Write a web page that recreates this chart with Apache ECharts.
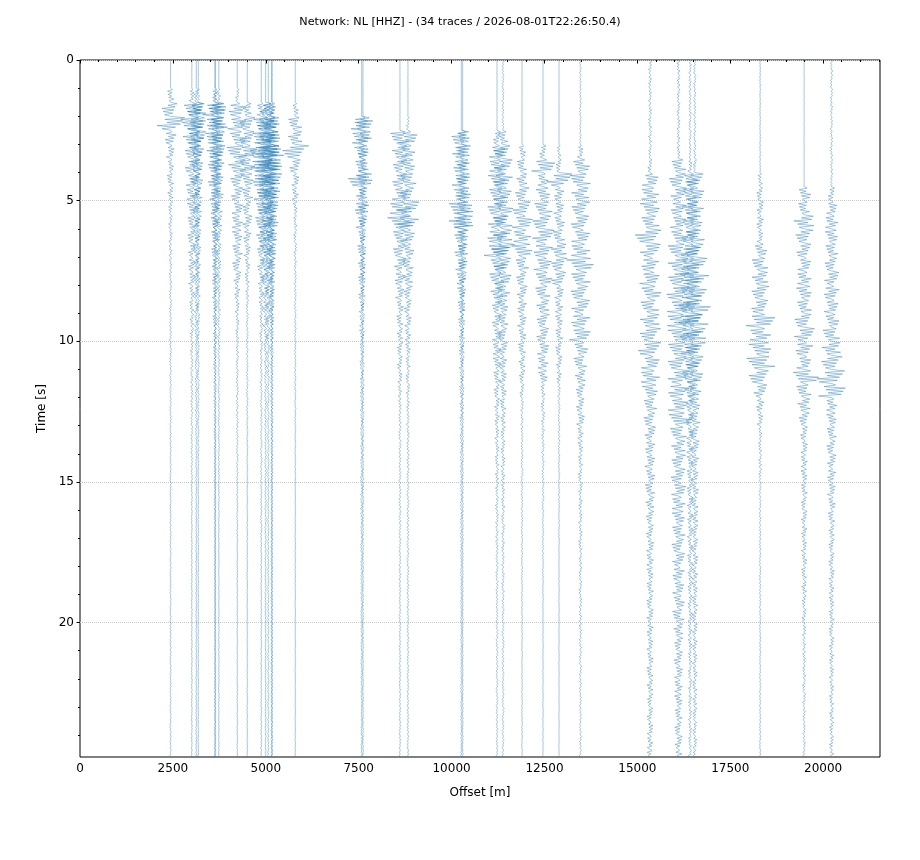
<!DOCTYPE html>
<html>
<head>
<meta charset="utf-8">
<title>Record section</title>
<script src="https://cdn.jsdelivr.net/npm/echarts@6/dist/echarts.min.js"></script>
<style>
  html, body { margin: 0; padding: 0; background: #fff; }
  #chart { width: 920px; height: 860px; }
</style>
</head>
<body>
<div id="chart"></div>
<script>
// station offsets in metres, one per trace (34 traces)
var offsets = [2437, 3010, 3129, 3183, 3629, 3645, 3737, 4233, 4502, 4879,
  4995, 5067, 5156, 5172, 5794, 7580, 7616, 8611, 8826, 10263,
  10299, 11223, 11385, 11896, 12461, 12892, 13468, 15342, 16107, 16419,
  16546, 18304, 19488, 20226];

// wiggle half-width (metres), one value per 0.5 s window from t = 0
var binSec = 0.5;
var envelopes = [
  /* 2437 */ [3,3,90,230,380,160,110,80,90,80, 60,55,50,45,40,40,35,35,30,35, 30,25,25,25,25,25,20,20,20,20, 18,18,18,18,18,18,18,18,18,18, 18,18,18,18,18,18,18,18,18,18],
  /* 3010 */ [3,3,70,280,300,250,200,180,160,150, 130,120,110,100,100,90,70,60,55,50, 45,40,40,35,35,30,28,25,22,20, 15,15,12,12,12,12,12,12,12,12, 12,12,12,12,12,12,12,12,12,12],
  /* 3129 */ [3,3,60,240,250,220,180,150,140,120, 110,100,90,80,70,65,60,55,50,45, 40,38,35,32,30,28,25,22,20,18, 15,12,12,12,12,12,12,12,12,12, 12,12,12,12,12,12,12,12,12,12],
  /* 3183 */ [3,3,40,200,220,200,160,140,120,110, 100,90,80,70,65,60,55,50,45,40, 38,35,32,30,28,25,22,20,18,15, 12,12,12,12,12,12,12,12,12,12, 12,12,12,12,12,12,12,12,12,12],
  /* 3629 */ [3,3,70,330,280,250,230,200,180,150, 120,110,100,90,80,80,70,60,55,50, 45,40,35,30,25,25,22,22,20,20, 18,18,15,15,12,12,12,12,12,12, 12,12,12,12,12,12,12,12,12,12],
  /* 3645 */ [3,3,50,200,220,200,180,160,140,120, 100,90,80,70,65,60,55,50,45,40, 35,32,28,25,22,20,18,18,15,15, 12,12,12,12,10,10,10,10,10,10, 10,10,10,10,10,10,10,10,10,10],
  /* 3737 */ [3,3,50,200,230,200,170,150,130,120, 100,90,80,70,60,60,50,45,40,40, 35,30,25,25,25,25,20,20,18,18, 15,15,12,12,10,10,10,10,10,10, 10,10,10,10,10,10,10,10,10,10],
  /* 4233 */ [3,3,50,250,260,250,280,250,200,160, 150,150,140,140,130,100,80,60,50,45, 40,40,35,35,30,30,28,25,25,22, 20,20,18,15,12,12,12,12,12,12, 12,12,12,12,12,12,12,12,12,12],
  /* 4502 */ [3,3,3,120,220,200,260,220,180,150, 120,130,110,90,70,60,45,40,35,30, 28,25,25,25,22,20,18,15,15,15, 12,12,12,12,12,12,12,12,12,12, 12,12,12,12,12,12,12,12,12,12],
  /* 4879 */ [3,3,3,120,220,250,300,300,250,200, 180,160,140,120,100,90,70,60,50,45, 40,35,35,30,30,25,25,25,25,25, 22,22,20,20,18,15,15,15,15,15, 15,15,15,15,15,15,15,15,15,15],
  /* 4995 */ [3,3,3,150,250,300,350,350,300,250, 220,200,170,150,120,110,90,80,70,60, 50,45,40,35,35,30,25,25,25,25, 25,25,22,22,20,20,18,18,15,15, 15,15,15,15,15,15,15,15,15,15],
  /* 5067 */ [3,3,3,130,220,270,320,330,280,230, 200,180,150,130,110,100,80,70,60,55, 45,40,38,35,30,28,25,25,22,22, 20,20,20,18,18,20,20,20,20,20, 20,20,20,20,20,20,18,18,18,18],
  /* 5156 */ [3,3,3,110,220,250,330,320,280,240, 200,180,150,130,110,90,80,70,60,50, 45,40,35,35,30,28,25,25,22,22, 20,20,18,18,20,20,20,20,20,20, 20,20,20,20,20,18,18,18,18,18],
  /* 5172 */ [3,3,3,90,180,200,260,260,220,190, 160,140,120,100,90,75,65,55,50,40, 35,32,28,28,25,22,20,20,18,18, 15,15,15,15,12,12,12,12,12,12, 12,12,12,12,12,12,12,12,12,12],
  /* 5794 */ [3,3,3,80,180,200,380,150,100,90, 60,50,45,40,35,35,30,28,25,25, 22,20,20,18,18,15,15,15,12,12, 10,10,10,10,10,10,10,10,10,10, 10,10,10,10,10,10,10,10,10,10],
  /* 7580 */ [3,3,3,3,300,280,200,180,360,150, 200,150,110,110,100,100,80,70,60,60, 50,50,45,45,40,40,35,35,35,35, 35,35,32,32,30,30,30,28,28,25, 25,25,25,22,22,22,20,20,20,20],
  /* 7616 */ [3,3,3,3,220,200,150,130,250,110, 150,110,80,80,70,70,60,50,45,45, 38,38,35,35,30,30,28,28,25,22, 22,22,20,20,18,18,18,16,16,15, 15,15,15,15,14,14,14,14,14,14],
  /* 8611 */ [3,3,3,3,3,250,220,200,200,220, 300,350,200,180,160,150,120,100,90,80, 80,70,60,50,40,35,35,30,30,30, 28,28,25,25,25,22,22,20,20,20, 18,18,18,18,18,18,18,18,18,18],
  /* 8826 */ [3,3,3,3,40,250,200,200,220,200, 300,300,200,160,150,140,120,100,90,80, 70,60,55,50,45,40,40,35,35,35, 30,30,30,28,28,25,25,25,22,22, 22,22,20,20,20,20,20,20,20,20],
  /* 10263 */ [3,3,3,3,3,260,250,230,250,250, 330,350,200,180,160,130,110,100,80,70, 65,60,55,50,45,45,40,40,35,35, 35,30,30,30,28,28,25,25,22,22, 20,20,20,20,20,18,18,18,18,18],
  /* 10299 */ [3,3,3,3,3,180,190,170,190,190, 250,260,150,140,120,100,85,75,60,55, 50,45,42,40,35,35,30,30,28,28, 26,24,24,22,22,20,20,18,18,18, 15,15,15,15,15,15,15,15,15,15],
  /* 11223 */ [3,3,3,3,3,100,220,220,250,230, 250,250,280,350,220,200,180,140,130,130, 120,110,100,80,70,65,60,55,50,50, 45,45,40,40,40,35,35,35,30,30, 30,28,28,25,25,25,22,22,20,20],
  /* 11385 */ [25,25,25,25,25,130,250,250,270,250, 270,260,270,330,230,220,190,150,140,130, 120,110,100,90,80,70,65,60,55,55, 50,50,45,45,45,40,40,40,35,35, 35,35,30,30,30,30,30,28,28,28],
  /* 11896 */ [3,3,3,3,3,3,100,130,150,200, 250,280,250,300,180,150,140,130,120,110, 100,90,80,60,40,35,30,30,28,25, 25,22,22,20,20,18,18,15,15,15, 12,12,12,12,12,12,12,12,12,12],
  /* 12461 */ [3,3,3,3,3,3,90,320,150,200, 250,280,300,270,250,250,200,180,180,170, 160,150,130,60,55,50,45,40,35,30, 25,25,20,20,18,15,15,12,12,10, 10,10,10,10,10,10,10,10,10,10],
  /* 12892 */ [3,3,3,3,3,3,50,80,350,140, 140,150,160,220,230,200,120,110,100,100, 90,80,70,40,30,28,25,25,22,20, 18,15,15,12,12,10,10,10,10,10, 8,8,8,8,8,8,8,8,8,8],
  /* 13468 */ [25,25,25,25,25,25,80,250,280,250, 260,250,250,270,390,270,260,250,270,300, 200,180,150,130,110,110,80,70,60,60, 55,55,50,50,50,45,45,45,40,40, 40,35,35,35,35,30,30,30,30,30],
  /* 15342 */ [45,45,45,45,45,45,45,60,220,250, 280,250,400,280,250,280,300,250,280,300, 320,250,270,220,180,170,150,140,140,130, 130,120,110,100,100,95,90,90,90,90, 90,85,85,85,85,80,80,80,80,80],
  /* 16107 */ [45,45,45,45,45,45,45,200,250,220, 220,220,250,280,300,300,320,320,330,300, 300,280,300,300,280,340,220,200,200,200, 200,190,180,180,180,170,170,160,160,160, 130,120,120,110,110,110,100,100,100,100],
  /* 16419 */ [35,35,35,35,35,35,35,60,200,180, 220,200,220,250,250,280,280,300,320,300, 250,220,200,150,120,110,100,100,90,90, 80,80,75,75,70,70,65,65,60,60, 55,55,50,50,50,50,45,45,45,45],
  /* 16546 */ [35,35,35,35,35,35,35,50,250,250, 250,220,260,300,330,400,350,420,380,330, 300,250,220,180,150,140,130,120,110,100, 100,95,95,90,90,85,85,80,80,80, 70,70,65,65,60,60,60,55,55,55],
  /* 18304 */ [10,10,10,10,10,10,10,10,60,90, 90,100,80,180,220,230,250,230,400,300, 320,400,300,180,110,80,50,45,45,40, 30,25,25,22,20,20,20,20,20,20, 18,18,18,18,18,18,18,18,18,18],
  /* 19488 */ [5,5,5,5,5,5,5,5,5,180, 150,290,250,200,180,200,220,200,250,280, 250,200,390,200,180,150,100,90,90,90, 85,80,80,80,75,75,70,70,60,60, 50,45,45,45,45,45,40,40,40,40],
  /* 20226 */ [35,35,35,35,35,35,35,35,35,90, 140,180,180,170,180,200,220,200,200,230, 270,300,390,370,150,140,130,130,120,120, 110,100,90,80,80,75,75,70,70,70, 70,65,65,65,60,60,60,60,60,60]
];

// axis ranges and labelled ticks
var xMax = 21530;
var tMax = 24.78;
var xTicks = [0, 2500, 5000, 7500, 10000, 12500, 15000, 17500, 20000];
var yTicks = [0, 5, 10, 15, 20];

var minorX = [];
for (var v = 500; v < xMax; v += 500) { if (v % 2500) minorX.push(v); }
var minorY = [];
for (var s = 1; s < tMax; s++) { if (s % 5) minorY.push(s); }

// one item per trace window: [offset, window start, half-width, trace]
var binData = [];
offsets.forEach(function (off, i) {
  envelopes[i].forEach(function (a, j) {
    binData.push([off, j * binSec, a, i]);
  });
});

// relative swing sizes inside a window, so the wiggle is not a flat block
var SWING = [1, 0.4, 0.85, 0.25, 0.7, 0.95, 0.35, 0.6, 0.9, 0.45, 0.75, 0.3, 0.55];

function renderBin(params, api) {
  var off = api.value(0), t0 = api.value(1), a = api.value(2);
  var t1 = Math.min(t0 + binSec, tMax);
  if (t1 <= t0) return;
  var p0 = api.coord([off, t0]);
  var p1 = api.coord([off, t1]);
  var half = api.size([a, 0])[0];
  var h = p1[1] - p0[1];
  var n = Math.max(2, Math.round(h / 1.5));
  var shift = api.value(3) * 5 + params.dataIndex * 3;
  var pts = [[p0[0], p0[1]]];
  for (var k = 1; k < n; k++) {
    var side = k % 2 ? 1 : -1;
    pts.push([p0[0] + side * half * SWING[(k + shift) % SWING.length], p0[1] + h * k / n]);
  }
  pts.push([p1[0], p1[1]]);
  return {
    type: 'polyline',
    shape: { points: pts },
    style: { stroke: '#1f77b4', lineWidth: 0.75, fill: null, opacity: 0.55 }
  };
}

function plain(v) { return String(v); }

var font = 'DejaVu Sans';
var chart = echarts.init(document.getElementById('chart'), null, { renderer: 'canvas' });

chart.setOption({
  animation: false,
  backgroundColor: '#fff',
  title: {
    text: 'Network: NL [HHZ] - (34 traces / 2026-08-01T22:26:50.4)',
    left: 'center',
    top: 12,
    textStyle: { fontFamily: font, fontSize: 11.2, fontWeight: 'normal', color: '#000' }
  },
  grid: {
    left: 80, right: 40, top: 60, bottom: 103,
    show: true, borderColor: '#000', borderWidth: 1, backgroundColor: 'transparent'
  },
  xAxis: [{
    type: 'value', min: 0, max: xMax, interval: 2500,
    name: 'Offset [m]', nameLocation: 'middle', nameGap: 30,
    nameTextStyle: { fontFamily: font, fontSize: 12, color: '#000' },
    axisLine: { show: false },
    axisTick: { show: true, customValues: xTicks, length: 3.5, lineStyle: { color: '#000' } },
    axisLabel: { customValues: xTicks, formatter: plain, margin: 6, fontFamily: font, fontSize: 12, color: '#000' },
    splitLine: { show: false }
  }, {
    type: 'value', min: 0, max: xMax, position: 'bottom',
    axisLine: { show: false },
    axisTick: { show: true, customValues: minorX, length: 2, lineStyle: { color: '#000' } },
    axisLabel: { show: false },
    splitLine: { show: false }
  }],
  yAxis: [{
    type: 'value', min: 0, max: tMax, interval: 5, inverse: true,
    name: 'Time [s]', nameLocation: 'middle', nameGap: 28,
    nameTextStyle: { fontFamily: font, fontSize: 12, color: '#000' },
    axisLine: { show: false },
    axisTick: { show: true, customValues: yTicks, length: 3.5, lineStyle: { color: '#000' } },
    axisLabel: { customValues: yTicks, formatter: plain, margin: 6, fontFamily: font, fontSize: 12, color: '#000' },
    splitLine: { show: true, lineStyle: { color: '#c8c8c8', type: 'dotted', width: 1 } }
  }, {
    type: 'value', min: 0, max: tMax, inverse: true, position: 'left',
    axisLine: { show: false },
    axisTick: { show: true, customValues: minorY, length: 2, lineStyle: { color: '#000' } },
    axisLabel: { show: false },
    splitLine: { show: false }
  }],
  series: [{
    type: 'custom',
    xAxisIndex: 0,
    yAxisIndex: 0,
    clip: true,
    silent: true,
    renderItem: renderBin,
    encode: { x: 0, y: 1 },
    data: binData
  }]
});
</script>
</body>
</html>
